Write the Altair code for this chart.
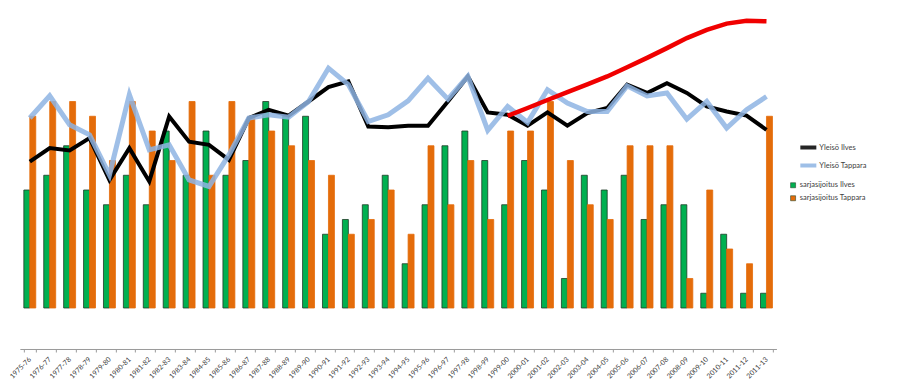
import altair as alt
import pandas as pd

seasons = ["1975-76", "1976-77", "1977-78", "1978-79", "1979-80", "1980-81", "1981-82",
           "1982-83", "1983-84", "1984-85", "1985-86", "1986-87", "1987-88", "1988-89",
           "1989-90", "1990-91", "1991-92", "1992-93", "1993-94", "1994-95", "1995-96",
           "1996-97", "1997-98", "1998-99", "1999-00", "2000-01", "2001-02", "2002-03",
           "2003-04", "2004-05", "2005-06", "2006-07", "2007-08", "2008-09", "2009-10",
           "2010-11", "2011-12", "2011-13"]

# bar heights (sarjasijoitus)
sij_ilves = [8, 9, 11, 8, 7, 9, 7, 12, 9, 12, 9, 10, 14, 13, 13, 5, 6, 7, 9, 3,
             7, 11, 12, 10, 7, 10, 8, 2, 9, 8, 9, 6, 7, 7, 1, 5, 1, 1]
sij_tappara = [13, 14, 14, 13, 10, 14, 12, 10, 14, 9, 14, 13, 12, 11, 10, 9, 5, 6, 8, 5,
               11, 7, 10, 6, 12, 12, 14, 10, 7, 6, 11, 11, 11, 2, 8, 4, 3, 13]

# attendance (yleisö)
yleiso_ilves = [4960, 5420, 5340, 5760, 4340, 5420, 4290, 6490, 5640, 5530, 5020, 6440, 6720,
                6520, 7000, 7490, 7680, 6150, 6130, 6180, 6180, 7000, 7850, 6630, 6550, 6180,
                6630, 6180, 6610, 6780, 7570, 7290, 7620, 7290, 6830, 6660, 6520, 6040]
yleiso_tappara = [6440, 7190, 6210, 5870, 4510, 7230, 5360, 5530, 4340, 4120, 5190, 6440, 6550,
                  6470, 7000, 8130, 7570, 6320, 6550, 7020, 7790, 7080, 7850, 6020, 6830, 6290,
                  7400, 6950, 6660, 6660, 7530, 7190, 7290, 6400, 7000, 6100, 6720, 7170]

# red trend line from 1999-00 onwards
trend_seasons = seasons[24:]
trend_values = [6515, 6780, 7050, 7315, 7580, 7850, 8160, 8480, 8810, 9150, 9430, 9640, 9740, 9720]

bar_names = ["sarjasijoitus Ilves", "sarjasijoitus Tappara"]
line_names = ["Yleisö Ilves", "Yleisö Tappara"]

bars_df = pd.DataFrame({
    "season": seasons * 2,
    "series": [bar_names[0]] * len(seasons) + [bar_names[1]] * len(seasons),
    "value": sij_ilves + sij_tappara,
})
lines_df = pd.DataFrame({
    "season": seasons * 2,
    "series": [line_names[0]] * len(seasons) + [line_names[1]] * len(seasons),
    "value": yleiso_ilves + yleiso_tappara,
})
trend_df = pd.DataFrame({"season": trend_seasons, "value": trend_values})

FONT = "Lato"

x_enc = alt.X(
    "season:N", sort=seasons, title=None,
    scale=alt.Scale(paddingInner=0.4, paddingOuter=0.2),
    axis=alt.Axis(labelAngle=315, labelAlign="right", labelBaseline="middle",
                  labelFontSize=7, labelColor="#404040", labelFont=FONT,
                  labelPadding=6, ticks=True, tickBand="extent", tickSize=3,
                  tickColor="#9a9a9a", domainColor="#9a9a9a", offset=41,
                  labelOverlap=False),
)

bars = alt.Chart(bars_df).mark_bar(strokeWidth=0.8).encode(
    x=x_enc,
    xOffset=alt.XOffset("series:N", sort=bar_names,
                        scale=alt.Scale(paddingInner=0, paddingOuter=0)),
    y=alt.Y("value:Q", scale=alt.Scale(domain=[0, 20]), axis=None),
    fill=alt.Fill("series:N", sort=bar_names,
                  scale=alt.Scale(domain=bar_names, range=["#00B050", "#E46C0A"]),
                  legend=alt.Legend(title=None, orient="none", legendX=769.5, legendY=168.5,
                                    symbolType="square", symbolSize=25,
                                    symbolStrokeColor="#2a4a30", symbolStrokeWidth=0.6,
                                    labelFontSize=7.5, labelFont=FONT, labelColor="#404040",
                                    rowPadding=4, labelOffset=3)),
    stroke=alt.when(alt.datum.series == bar_names[0]).then(alt.value("#1e3b27")).otherwise(alt.value("#E46C0A")),
)

line_scale = alt.Scale(domain=line_names, range=["#000000", "#8EB4E3"])
line_legend = alt.Legend(title=None, orient="none", legendX=778.5, legendY=124.5,
                         symbolType="stroke", symbolSize=256, symbolStrokeWidth=4,
                         labelFontSize=7.5, labelFont=FONT, labelColor="#404040",
                         rowPadding=-1, labelOffset=1)
y_line = alt.Y("value:Q", scale=alt.Scale(domain=[0, 10000]), axis=None)

black = alt.Chart(lines_df).transform_filter(alt.datum.series == line_names[0]).mark_line(
    strokeWidth=4).encode(
    x=alt.X("season:N", sort=seasons),
    y=y_line,
    stroke=alt.Stroke("series:N", scale=line_scale, legend=line_legend),
)
blue = alt.Chart(lines_df).transform_filter(alt.datum.series == line_names[1]).mark_line(
    strokeWidth=5, opacity=0.85).encode(
    x=alt.X("season:N", sort=seasons),
    y=y_line,
    stroke=alt.Stroke("series:N", scale=line_scale, legend=line_legend),
)
red = alt.Chart(trend_df).mark_line(strokeWidth=4.5, color="#F00000").encode(
    x=alt.X("season:N", sort=seasons),
    y=alt.Y("value:Q", scale=alt.Scale(domain=[0, 10000]), axis=None),
)

chart = alt.layer(bars, black, blue, red).resolve_scale(y="independent").properties(
    width=756.6, height=295,
    autosize=alt.AutoSizeParams(type="none"),
    padding={"left": 11.85, "top": 5, "right": 100, "bottom": 76},
    background="white",
).configure_view(strokeWidth=0)

chart.save("out.html", embed_options={"renderer": "svg", "actions": False})
